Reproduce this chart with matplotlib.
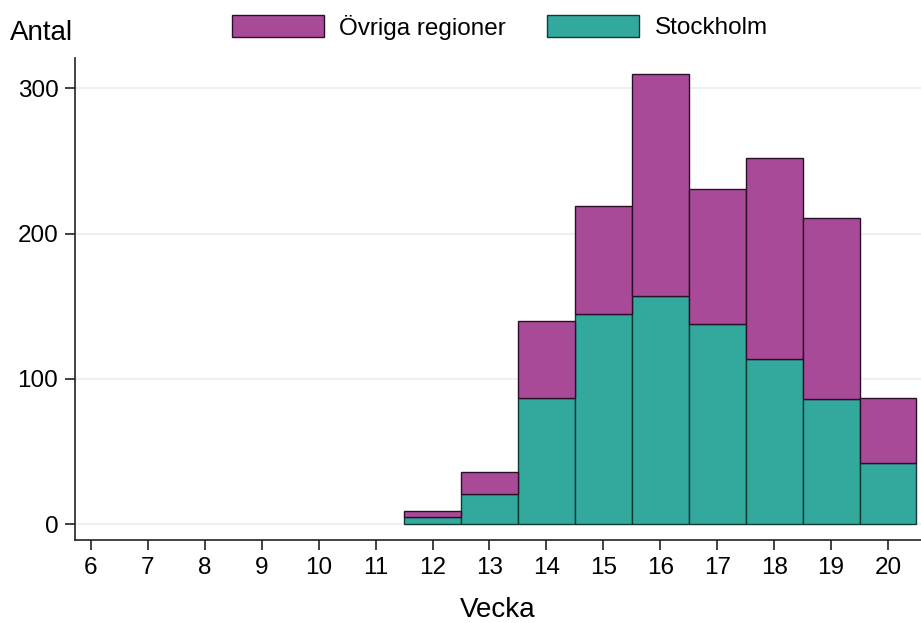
import matplotlib
matplotlib.use("Agg")
import matplotlib.pyplot as plt

weeks = [12, 13, 14, 15, 16, 17, 18, 19, 20]
stockholm = [5, 21, 87, 145, 157, 138, 114, 86, 42]
total = [9, 36, 140, 219, 310, 231, 252, 211, 87]
ovriga = [t - s for t, s in zip(total, stockholm)]
xticks = list(range(6, 21))
yticks = [0, 100, 200, 300]

plt.rcParams['font.family'] = ['Liberation Sans', 'DejaVu Sans']

fig = plt.figure(figsize=(9.21, 6.23), dpi=100)
ax = fig.add_axes([75/921, 1-540/623, 1-75/921, (540-58)/623])

purple = '#A94A98'
teal = '#33A99E'
ax.bar(weeks, stockholm, width=1.0, color=teal, edgecolor='#0E3A36', linewidth=1.0, label='Stockholm', zorder=3)
ax.bar(weeks, ovriga, bottom=stockholm, width=1.0, color=purple, edgecolor='#2A0F26', linewidth=1.0, label='Övriga regioner', zorder=3)

ax.set_xlim(5.72, 20.58)
ax.set_ylim(-11, 321)
ax.set_xticks(xticks)
ax.set_yticks(yticks)
ax.tick_params(axis='both', labelsize=17.5, direction='out', length=7, width=1.3, color='#333333', pad=5)
ax.yaxis.grid(True, color='#EAF1F3', linewidth=1.5, zorder=0)
ax.set_axisbelow(True)
for s in ['top', 'right']:
    ax.spines[s].set_visible(False)
for s in ['left', 'bottom']:
    ax.spines[s].set_linewidth(1.2)
    ax.spines[s].set_color('#222222')

ax.set_xlabel('Vecka', fontsize=20, labelpad=13)
fig.text(10/921, 1-33/623, 'Antal', fontsize=20, va='center', ha='left')

handles, labels = ax.get_legend_handles_labels()
fig.legend(handles[::-1], labels[::-1], loc='center', bbox_to_anchor=(500/921, 1-27/623), ncol=2,
           frameon=False, fontsize=17.5, handlelength=3.75, handleheight=1.0, columnspacing=1.7, handletextpad=0.65)

fig.savefig('out.png', dpi=100)
